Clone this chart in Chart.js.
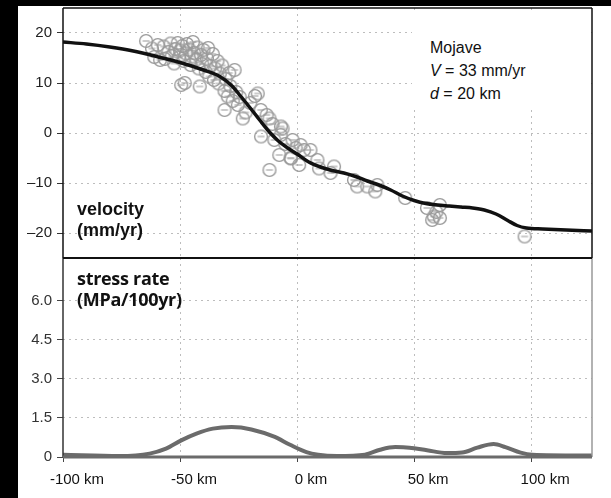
<!DOCTYPE html>
<html>
<head>
<meta charset="utf-8">
<script src="https://cdn.jsdelivr.net/npm/chart.js@4.4.1/dist/chart.umd.min.js"></script>
<style>
html,body{margin:0;padding:0;background:#fff;width:611px;height:498px;overflow:hidden}
body{position:relative}
canvas{position:absolute;left:0}
#botChart{top:250px}
#topChart{top:0}
.blk{position:absolute;background:#000}
.note{position:absolute;left:412px;top:10px;width:178px;height:100px;background:#fff;font-family:"Liberation Sans",Arial,sans-serif;font-size:16px;line-height:23px;color:#111}
.note div{position:absolute;left:18px}
.lbl{position:absolute;color:#111;font-weight:bold;white-space:nowrap}
</style>
</head>
<body>
<canvas id="botChart" width="611" height="248"></canvas>
<canvas id="topChart" width="611" height="262"></canvas>
<div class="note">
  <div style="top:26px">Mojave</div>
  <div style="top:49px"><i>V</i> = 33 mm/yr</div>
  <div style="top:72px"><i>d</i> = 20 km</div>
</div>
<div class="lbl" style="left:77px;top:199px;font-family:'Liberation Sans',Arial,sans-serif;font-size:18px;line-height:21px">velocity<br>(mm/yr)</div>
<div class="lbl" style="left:77px;top:268px;font-family:'Open Sans',sans-serif;font-size:18px;line-height:21px;letter-spacing:-0.3px">stress rate<br>(MPa/100yr)</div>
<div class="blk" style="left:0;top:0;width:18px;height:498px"></div>
<div class="blk" style="left:0;top:0;width:611px;height:6px"></div>
<script>
// ---- data ----
const distanceTicks = [-100, -50, 0, 50, 100];
const velocityTicks = [-20, -10, 0, 10, 20];
const stressTicks = [0, 1.5, 3.0, 4.5, 6.0];

// model velocity curve
const modelKm  = [-100, -90, -80, -70, -60, -50, -40, -33, -28, -24, -20, -16, -12, -8, -4, 0, 5, 10, 15, 20, 25, 30, 35, 40, 45, 50, 55, 60, 65, 70, 75, 80, 85, 90, 94, 98, 105, 115, 126];
const modelVel = [18.2, 17.8, 17.2, 16.4, 15.3, 14.1, 12.6, 11.3, 9.5, 7.3, 5.0, 2.6, 0.3, -1.6, -3.0, -4.2, -5.8, -6.8, -7.5, -8.0, -8.7, -9.6, -10.4, -11.4, -12.6, -13.5, -14.1, -14.4, -14.6, -14.8, -15.0, -15.4, -16.2, -17.5, -18.5, -19.0, -19.2, -19.4, -19.6];

// GPS observations
const obsKm  = [-64.5, -62, -61, -59.5, -58.5, -57, -56.5,
  -55, -54, -53.5, -52.5, -52, -51, -50.5, -50, -49.5, -49, -48.5, -48, -47.5, -47, -46, -45.5, -45, -44.5,
  -44, -43, -42.5, -42, -41.6, -41, -40.5, -40, -39, -38.5, -38, -37.5, -37, -36, -35.5, -35, -34, -33.5,
  -33, -32, -31, -31, -30.5, -29.6, -29, -28.5, -27.5, -26.7, -26, -25.3, -24.5,
  -23.2, -22, -20, -18, -16.8, -15.5, -15.4, -13, -11.8, -11.8, -10.5,
  -9.7, -7.6, -7, -6.9, -6.2, -5, -2.8, -2.6, -1.9, -0.6,
  0.9, 1.5, 3, 5.7, 8.7, 9.4, 14.3, 15.8, 24.3, 25.7, 30, 33.4, 34.3,
  46.2, 55.5, 57.7, 58.4, 59.5, 61, 61, 97.2];
const obsVel = [18.4, 16.9, 15.2, 17.6, 14.6, 17.3, 14.8,
  16.2, 17.9, 15.4, 13.9, 16.8, 18.0, 15.1, 16.5, 9.6, 17.4, 14.4, 10.0, 15.9, 17.8, 16.7, 13.6, 15.3, 18.2,
  16.0, 14.7, 17.1, 12.9, 9.3, 15.6, 13.8, 16.6, 12.2, 14.9, 17.0, 11.3, 13.4, 15.8, 10.6, 12.9, 14.4, 9.9,
  11.9, 13.5, 4.6, 8.4, 10.8, 7.3, 12.0, 9.4, 6.4, 12.6, 8.2, 5.6, 7.2,
  2.9, 4.1, 6.0, 7.4, 7.9, 4.6, -0.7, 3.6, 2.9, -7.4, 1.8,
  -1.4, -4.4, -0.4, 1.3, 0.9, -2.2, -5.0, -5.1, -1.4, -3.0,
  -6.4, -2.4, -3.4, -3.4, -5.4, -7.1, -8.0, -6.7, -9.4, -10.7, -10.7, -11.7, -10.4,
  -13.0, -15.0, -17.4, -16.7, -15.8, -14.4, -17.0, -20.7];

// stress rate curve
const stressKm  = [-100, -76, -63, -56, -49.5, -43, -36, -28, -19.5, -9.5, -3, 4, 9, 17, 29, 35.5, 42, 48, 55.5, 64, 70.5, 77, 84, 89, 95.5, 100.5, 126];
const stressVal = [0.09, 0.04, 0.13, 0.32, 0.64, 0.90, 1.09, 1.15, 1.06, 0.77, 0.47, 0.19, 0.09, 0.04, 0.09, 0.28, 0.38, 0.36, 0.26, 0.15, 0.17, 0.36, 0.50, 0.38, 0.17, 0.09, 0.06];

// ---- helpers ----
const toXY = (xs, ys) => xs.map((x, i) => ({x: x, y: ys[i]}));
Chart.defaults.font.family = "'Liberation Sans', Arial, sans-serif";
Chart.defaults.animation = false;

const gridCol = (ctx) => (ctx.tick && ctx.tick.value === -100) ? 'rgba(0,0,0,0)' : '#bdbdbd';

// panel frame drawn on the chart area edges
const framePlugin = {
  id: 'frame',
  afterDraw(chart, args, o) {
    const {left, right, top, bottom} = chart.chartArea;
    const c = chart.ctx;
    const seg = (s, x1, y1, x2, y2) => {
      if (!s) return;
      c.save();
      c.strokeStyle = s.color; c.lineWidth = s.width; c.setLineDash([]);
      c.beginPath(); c.moveTo(x1, y1); c.lineTo(x2, y2); c.stroke();
      c.restore();
    };
    seg(o.left, left, top, left, bottom);
    seg(o.right, right, top, right, bottom);
    seg(o.top, left, top, right, top);
    seg(o.bottom, left, bottom, right, bottom);
  }
};

// point style: grey ring with a bar
const ring = document.createElement('canvas');
ring.width = 16; ring.height = 16;
(function () {
  const c = ring.getContext('2d');
  c.strokeStyle = '#9a9a9a'; c.lineWidth = 1.4;
  c.beginPath(); c.arc(8, 8, 6.4, 0, Math.PI * 2); c.stroke();
  c.strokeStyle = '#a8a8a8'; c.lineWidth = 1.2;
  c.beginPath(); c.moveTo(4.5, 8); c.lineTo(11.5, 8); c.stroke();
})();

const yFit = (s) => { s.width = 63; s.paddingTop = 0; s.paddingBottom = 0; };

// ---- top panel: velocity ----
new Chart(document.getElementById('topChart'), {
  type: 'scatter',
  data: {
    datasets: [
      {type: 'line', data: toXY(modelKm, modelVel), borderColor: '#111', borderWidth: 3.5,
       pointRadius: 0, cubicInterpolationMode: 'monotone', fill: false, order: 0},
      {type: 'scatter', data: toXY(obsKm, obsVel), pointStyle: ring, pointRadius: 7, order: 1}
    ]
  },
  options: {
    responsive: false,
    layout: {autoPadding: false, padding: {top: 8, right: 19, bottom: 4, left: 0}},
    plugins: {legend: {display: false}, tooltip: {enabled: false},
              frame: {top: {color: '#111', width: 1.5}, right: {color: '#111', width: 1.5},
                      left: {color: '#111', width: 1.5}, bottom: {color: '#111', width: 2}}},
    scales: {
      x: {type: 'linear', min: -100, max: 126,
          afterBuildTicks: s => { s.ticks = distanceTicks.map(v => ({value: v})); },
          afterFit: s => { s.height = 0; s.paddingLeft = 0; s.paddingRight = 0; },
          ticks: {display: false},
          grid: {color: gridCol, drawTicks: false, lineWidth: 1},
          border: {display: false, dash: [2, 4]}},
      y: {type: 'linear', min: -25, max: 25,
          afterBuildTicks: s => { s.ticks = velocityTicks.map(v => ({value: v})); },
          afterFit: yFit,
          ticks: {color: '#222', font: {size: 15}, padding: 5,
                  callback: v => v < 0 ? '\u2013' + Math.abs(v) : String(v)},
          grid: {color: '#bdbdbd', tickColor: '#333', tickLength: 6, tickBorderDash: [], lineWidth: 1},
          border: {display: false, dash: [2, 4]}}
    }
  },
  plugins: [framePlugin]
});

// ---- bottom panel: stress rate ----
new Chart(document.getElementById('botChart'), {
  type: 'scatter',
  data: {
    datasets: [
      {type: 'line', data: toXY(stressKm, stressVal), borderColor: '#6b6b6b', borderWidth: 4,
       pointRadius: 0, cubicInterpolationMode: 'monotone', fill: false}
    ]
  },
  options: {
    responsive: false,
    layout: {autoPadding: false, padding: {top: 8, right: 19, bottom: 0, left: 0}},
    plugins: {legend: {display: false}, tooltip: {enabled: false},
              frame: {right: {color: '#999', width: 1.5}, left: {color: '#333', width: 1.5},
                      bottom: {color: '#6b6b6b', width: 3}}},
    scales: {
      x: {type: 'linear', min: -100, max: 126,
          afterBuildTicks: s => { s.ticks = distanceTicks.map(v => ({value: v})); },
          afterFit: s => { s.height = 41; s.paddingLeft = 0; s.paddingRight = 0; },
          ticks: {color: '#111', font: {size: 15}, padding: 9, labelOffset: 14, maxRotation: 0,
                  callback: v => v + ' km'},
          grid: {color: gridCol, tickColor: '#444', tickLength: 5, tickBorderDash: [], lineWidth: 1},
          border: {display: false, dash: [2, 4]}},
      y: {type: 'linear', min: 0, max: 7.65,
          afterBuildTicks: s => { s.ticks = stressTicks.map(v => ({value: v})); },
          afterFit: yFit,
          ticks: {color: '#333', font: {size: 15}, padding: 5,
                  callback: v => v === 0 ? '0' : v.toFixed(1)},
          grid: {color: '#bdbdbd', tickColor: '#444', tickLength: 6, tickBorderDash: [], lineWidth: 1},
          border: {display: false, dash: [2, 4]}}
    }
  },
  plugins: [framePlugin]
});
</script>
</body>
</html>
